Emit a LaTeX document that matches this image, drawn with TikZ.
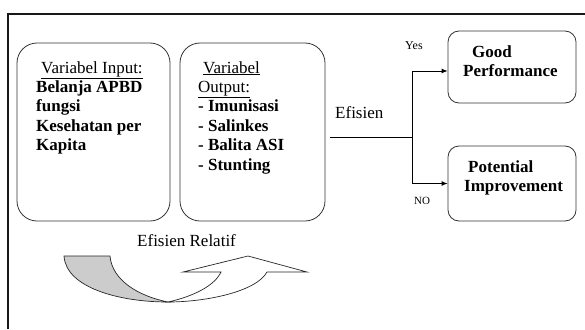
\documentclass[tikz,border=0pt]{standalone}
\usepackage{fontspec}
\setmainfont{Liberation Serif}
\usetikzlibrary{arrows.meta}

\begin{document}
\begin{tikzpicture}[x=1pt,y=-1pt,
  frameline/.style={line width=1.6pt, draw=black!90},
  bigbox/.style={draw=black!80, line width=0.8pt, rounded corners=20pt,
    minimum height=178pt, inner sep=0pt},
  smallbox/.style={draw=black!80, line width=0.8pt, rounded corners=11pt,
    minimum width=128pt, inner sep=0pt},
  txt/.style={font=\fontsize{17}{19.4}\selectfont, inner sep=0pt,
    anchor=base west, align=left},
  smalltxt/.style={font=\fontsize{12}{14}\selectfont, inner sep=0pt,
    anchor=base west},
  conn/.style={line width=0.9pt, draw=black},
  tip/.style={-{Latex[length=6pt,width=5pt]}},
  bandshade/.style={fill=black!20, draw=black!85, line width=0.7pt},
  bandwhite/.style={fill=white, draw=black!85, line width=0.7pt}
]
\useasboundingbox (0,0) rectangle (585,329);

% outer frame: top and left edges
\draw[frameline] (8,329) -- (8,14) -- (585,14);

% variable boxes
\node[bigbox, minimum width=153pt] (inbox) at (93.5,132) {};
\node[bigbox, minimum width=145pt] (outbox) at (252.5,132) {};

% multi-line texts are placed by the baseline of their last line
\node[txt] (intext) at (36,150.6)
  {\hspace*{5pt}\underline{Variabel Input:}\\
   \textbf{Belanja APBD}\\
   \textbf{fungsi}\\
   \textbf{Kesehatan per}\\
   \textbf{Kapita}};

\node[txt] (outtext) at (198,170)
  {\hspace*{5pt}\underline{Variabel}\\
   \underline{Output:}\\
   \textbf{- Imunisasi}\\
   \textbf{- Salinkes}\\
   \textbf{- Balita ASI}\\
   \textbf{- Stunting}};

% result boxes
\node[smallbox, minimum height=72pt] (good) at (512,67) {};
\node[smallbox, minimum height=75pt] (potential) at (512,183.5) {};

\node[txt, font=\fontsize{17}{19.4}\selectfont\bfseries] (goodtext) at (463,76.4)
  {\hspace*{9pt}Good\\Performance};
\node[txt, font=\fontsize{17}{19.4}\selectfont\bfseries] (pottext) at (464,191.4)
  {\hspace*{4pt}Potential\\Improvement};

% efficiency decision
\node[txt] (efisien) at (335,118) {Efisien};
\node[smalltxt] (yes) at (405,49) {Yes};
\node[smalltxt, font=\fontsize{11}{13}\selectfont] (no) at (414,204) {NO};

\coordinate (effstart) at (330,137);
\coordinate (split) at (412,137);
\draw[conn] (effstart) -- (split);
\draw[conn, tip] (split) |- ([yshift=-4pt]good.west);
\draw[conn, tip] (split) |- (potential.west);

% relative efficiency label and curved arrow
\node[txt] (relatif) at (137,246) {Efisien Relatif};

\filldraw[bandshade] (64,256) .. controls (66,288) and (120,302) .. (168,302)
  .. controls (138,296) and (112,280) .. (110,256) -- cycle;
\filldraw[bandwhite] (168,302) .. controls (205,302) and (256,292) .. (267,272)
  -- (307,272) -- (248,256) -- (183,272) -- (221,272)
  .. controls (215,285) and (195,296) .. (168,302) -- cycle;
\end{tikzpicture}
\end{document}
